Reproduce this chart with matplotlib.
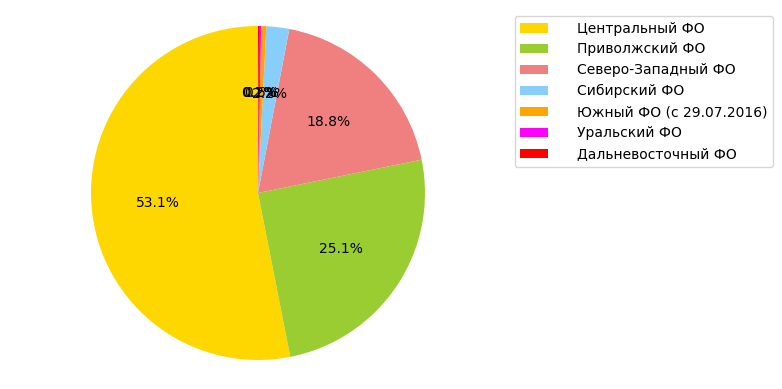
import matplotlib
matplotlib.use("Agg")
import matplotlib.pyplot as plt

regions = ["Центральный ФО", "Приволжский ФО", "Северо-Западный ФО", "Сибирский ФО",
           "Южный ФО (с 29.07.2016)", "Уральский ФО", "Дальневосточный ФО"]
shares = [53.1, 25.1, 18.8, 2.2, 0.5, 0.2, 0.1]
colors = ["gold", "yellowgreen", "lightcoral", "lightskyblue", "orange", "magenta", "red"]

fig = plt.figure(figsize=(7.82, 3.89), dpi=100)
ax = fig.add_axes([91 / 782, 29 / 389, 334 / 782, 334 / 389])

wedges, texts, autotexts = ax.pie(shares, colors=colors, autopct="%1.1f%%",
                                  startangle=90, counterclock=True)
ax.set_xlim(-1, 1)
ax.set_ylim(-1, 1)
ax.set_aspect("equal")

fig.legend(wedges, regions, loc="upper right", bbox_to_anchor=(780 / 782, 1 - 9 / 389),
           handletextpad=2.1, fontsize=10)

fig.savefig("out.png", dpi=100)
